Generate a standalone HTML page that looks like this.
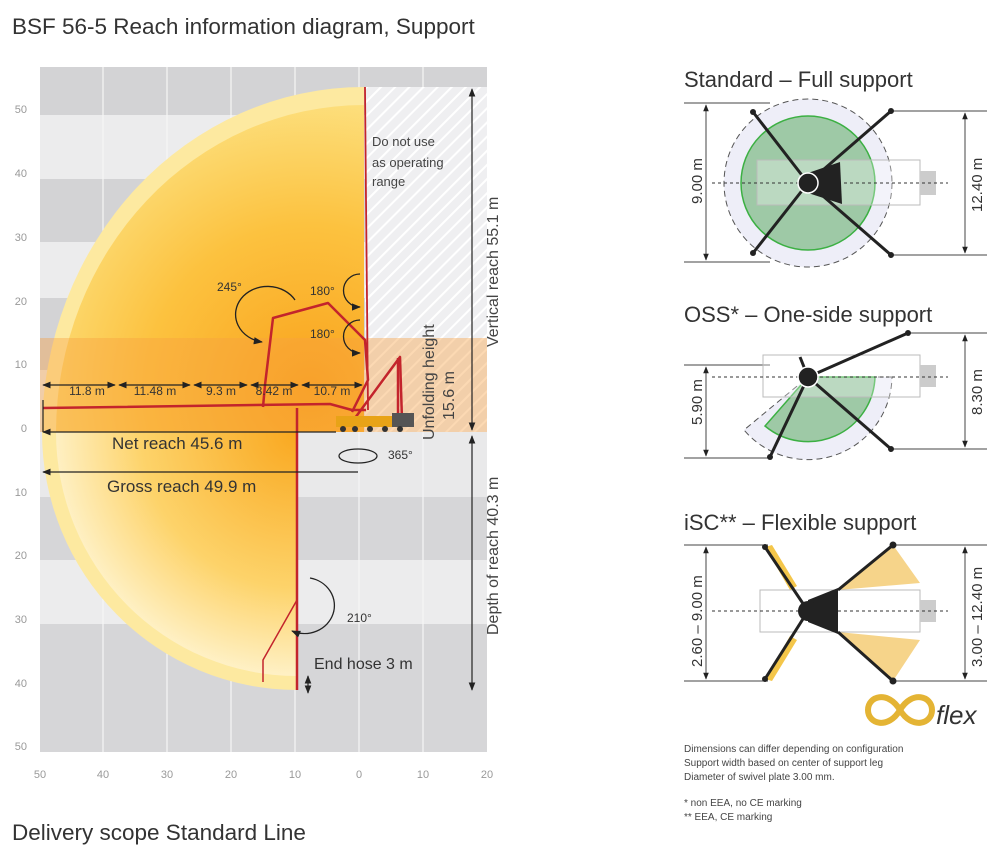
<!DOCTYPE html>
<html><head><meta charset="utf-8"><style>
body{margin:0;background:#fff;}
svg text{font-family:"Liberation Sans",sans-serif;}
</style></head><body>
<svg width="1007" height="845" viewBox="0 0 1007 845" xmlns="http://www.w3.org/2000/svg">
<defs>
<pattern id="hatch" width="10" height="10" patternUnits="userSpaceOnUse" patternTransform="rotate(45)">
<rect width="10" height="10" fill="#efeff1"/><line x1="0" y1="0" x2="0" y2="10" stroke="#fff" stroke-width="4"/>
</pattern>
<radialGradient id="yg" cx="310" cy="390" r="330" gradientUnits="userSpaceOnUse">
<stop offset="0" stop-color="#f9a21c"/><stop offset="0.5" stop-color="#fcc23f"/><stop offset="1" stop-color="#fde890"/>
</radialGradient>
<radialGradient id="yg2" cx="297" cy="432" r="260" gradientUnits="userSpaceOnUse">
<stop offset="0" stop-color="#f9a820"/><stop offset="0.6" stop-color="#fdd36a"/><stop offset="1" stop-color="#fff6d6"/>
</radialGradient>
<marker id="ah" viewBox="0 0 10 10" refX="9" refY="5" markerWidth="7" markerHeight="7" orient="auto-start-reverse"><path d="M0,1 L10,5 L0,9 z" fill="#222"/></marker>
</defs>
<text x="12" y="34" font-size="22.5" fill="#333">BSF 56-5 Reach information diagram, Support</text>
<rect x="40" y="67" width="447" height="685" fill="#ececed"/>
<rect x="40" y="67" width="447" height="48" fill="#d3d3d5"/>
<rect x="40" y="179" width="447" height="63" fill="#d3d3d5"/>
<rect x="40" y="298" width="447" height="72" fill="#d3d3d5"/>
<rect x="40" y="497" width="447" height="63" fill="#d6d6d8"/>
<rect x="40" y="624" width="447" height="128" fill="#d6d6d8"/>
<rect x="40" y="432" width="447" height="65" fill="#e9e9ea"/>
<g stroke="#f6f6f6" stroke-width="1.2">
<line x1="103" y1="67" x2="103" y2="752"/><line x1="167" y1="67" x2="167" y2="752"/><line x1="231" y1="67" x2="231" y2="752"/><line x1="295" y1="67" x2="295" y2="752"/><line x1="359" y1="67" x2="359" y2="752"/><line x1="423" y1="67" x2="423" y2="752"/>
</g>
<rect x="365" y="87" width="122" height="345" fill="url(#hatch)"/>
<path d="M364,87 A322,345 0 0 0 42,432 L364,432 Z" fill="#fde9a0"/>
<path d="M364,105 A308,328 0 0 0 56,432 L364,432 Z" fill="url(#yg)"/>
<path d="M42,432 A255,258 0 0 0 297,690 L297,432 Z" fill="#fde9a0"/>
<path d="M56,432 A241,244 0 0 0 297,676 L297,432 Z" fill="url(#yg2)"/>
<rect x="40" y="338" width="447" height="94" fill="#f7a040" opacity="0.4"/>
<g font-size="11" fill="#999" text-anchor="end">
<text x="27" y="113">50</text><text x="27" y="177">40</text><text x="27" y="241">30</text><text x="27" y="305">20</text><text x="27" y="368">10</text><text x="27" y="432">0</text>
<text x="27" y="496">10</text><text x="27" y="559">20</text><text x="27" y="623">30</text><text x="27" y="687">40</text><text x="27" y="750">50</text>
</g>
<g font-size="11" fill="#999" text-anchor="middle">
<text x="40" y="778">50</text><text x="103" y="778">40</text><text x="167" y="778">30</text><text x="231" y="778">20</text><text x="295" y="778">10</text><text x="359" y="778">0</text><text x="423" y="778">10</text><text x="487" y="778">20</text>
</g>
<g stroke="#c3242c" fill="none" stroke-width="2.5" stroke-linejoin="round">
<polyline points="365,87 366,200 367,300 368,410" stroke-width="1.8"/>
<polyline points="43,408 330,404 352,410 366,410"/>
<polyline points="263,407 265,385 273,318 328,303 365,340 368,380 352,412"/>
<polyline points="297,408 297,690"/>
<polyline points="297,600 263,660 263,682" stroke-width="1.5"/>
<polyline points="355,418 400,357 402,420"/>
<line x1="398" y1="358" x2="398" y2="420"/>
</g>
<rect x="336" y="416" width="66" height="11" fill="#e8a317"/>
<rect x="392" y="413" width="22" height="14" fill="#555"/>
<g fill="#333"><circle cx="343" cy="429" r="3"/><circle cx="355" cy="429" r="3"/><circle cx="370" cy="429" r="3"/><circle cx="385" cy="429" r="3"/><circle cx="400" cy="429" r="3"/></g>
<g stroke="#222" stroke-width="1.2" marker-start="url(#ah)" marker-end="url(#ah)">
<line x1="43" y1="385" x2="115" y2="385"/><line x1="119" y1="385" x2="190" y2="385"/><line x1="194" y1="385" x2="247" y2="385"/><line x1="251" y1="385" x2="298" y2="385"/><line x1="302" y1="385" x2="362" y2="385"/>
<line x1="472" y1="89" x2="472" y2="430"/><line x1="472" y1="436" x2="472" y2="690"/>
<line x1="308" y1="676" x2="308" y2="693"/>
</g>
<g stroke="#222" stroke-width="1.2">
<line x1="43" y1="432" x2="336" y2="432" marker-start="url(#ah)"/>
<line x1="43" y1="472" x2="358" y2="472" marker-start="url(#ah)"/>
<line x1="43" y1="400" x2="43" y2="432"/>
</g>
<g font-size="12" fill="#333" text-anchor="middle">
<text x="87" y="395">11.8 m</text><text x="155" y="395">11.48 m</text><text x="221" y="395">9.3 m</text><text x="274" y="395">8.42 m</text><text x="332" y="395">10.7 m</text>
</g>
<text x="112" y="449" font-size="17" fill="#333">Net reach 45.6 m</text>
<text x="107" y="492" font-size="17" fill="#333">Gross reach 49.9 m</text>
<text x="314" y="669" font-size="16" fill="#333">End hose 3 m</text>
<text x="372" y="146" font-size="13" fill="#444">Do not use</text>
<text x="372" y="167" font-size="13" fill="#444">as operating</text>
<text x="372" y="186" font-size="13" fill="#444">range</text>
<text x="217" y="291" font-size="12" fill="#333">245°</text>
<text x="310" y="295" font-size="12" fill="#333">180°</text>
<text x="310" y="338" font-size="12" fill="#333">180°</text>
<text x="388" y="459" font-size="12" fill="#333">365°</text>
<text x="347" y="622" font-size="12" fill="#333">210°</text>
<g fill="none" stroke="#222" stroke-width="1.3">
<path d="M295,300 A32,28 0 1 0 262,342" marker-end="url(#ah)"/>
<path d="M360,274 A12,12 0 0 0 360,307" marker-end="url(#ah)"/>
<path d="M360,320 A12,12 0 0 0 360,353" marker-end="url(#ah)"/>
<ellipse cx="358" cy="456" rx="19" ry="7"/>
<path d="M310,578 A30,28 0 1 1 292,631" marker-end="url(#ah)"/>
</g>
<g font-size="16" fill="#444">
<text transform="translate(498,347) rotate(-90)">Vertical reach 55.1 m</text>
<text transform="translate(498,635) rotate(-90)">Depth of reach 40.3 m</text>
<text transform="translate(434,440) rotate(-90)">Unfolding height</text>
<text transform="translate(454,420) rotate(-90)">15.6 m</text>
</g>
<text x="12" y="840" font-size="22.5" fill="#333">Delivery scope Standard Line</text>

<text x="684" y="87" font-size="22" fill="#333">Standard – Full support</text>
<g stroke="#444" stroke-width="1">
<line x1="684" y1="103" x2="770" y2="103"/><line x1="684" y1="262" x2="770" y2="262"/>
<line x1="890" y1="111" x2="987" y2="111"/><line x1="890" y1="255" x2="987" y2="255"/>
<line x1="706" y1="105" x2="706" y2="260" marker-start="url(#ah)" marker-end="url(#ah)"/>
<line x1="965" y1="113" x2="965" y2="253" marker-start="url(#ah)" marker-end="url(#ah)"/>
</g>
<circle cx="808" cy="183" r="84" fill="#eeeef8" stroke="#555" stroke-dasharray="6,4"/>
<circle cx="808" cy="183" r="67" fill="#9ec9a6" stroke="#3cb043" stroke-width="1.5"/>
<rect x="757" y="160" width="163" height="45" fill="#fff" fill-opacity="0.3" stroke="#bbb"/>
<rect x="920" y="171" width="16" height="24" fill="#ccc"/>
<line x1="712" y1="183" x2="948" y2="183" stroke="#333" stroke-dasharray="3,3"/>
<g stroke="#222" stroke-width="3">
<line x1="808" y1="183" x2="753" y2="112"/><line x1="808" y1="183" x2="753" y2="253"/><line x1="808" y1="183" x2="891" y2="111"/><line x1="808" y1="183" x2="891" y2="255"/>
</g>
<path d="M808,173 L840,162 L842,204 L808,193 Z" fill="#222"/>
<circle cx="808" cy="183" r="10" fill="#222" stroke="#fff" stroke-width="1.5"/>
<g fill="#222"><circle cx="753" cy="112" r="3"/><circle cx="753" cy="253" r="3"/><circle cx="891" cy="111" r="3"/><circle cx="891" cy="255" r="3"/></g>
<text transform="translate(702,204) rotate(-90)" font-size="15" fill="#333">9.00 m</text>
<text transform="translate(982,212) rotate(-90)" font-size="15" fill="#333">12.40 m</text>

<text x="684" y="322" font-size="22" fill="#333">OSS* – One-side support</text>
<g stroke="#444" stroke-width="1">
<line x1="684" y1="365" x2="770" y2="365"/><line x1="684" y1="458" x2="770" y2="458"/>
<line x1="908" y1="333" x2="987" y2="333"/><line x1="890" y1="449" x2="987" y2="449"/>
<line x1="706" y1="367" x2="706" y2="456" marker-start="url(#ah)" marker-end="url(#ah)"/>
<line x1="965" y1="335" x2="965" y2="447" marker-start="url(#ah)" marker-end="url(#ah)"/>
</g>
<path d="M808,377 L892,377 A84,84 0 0 1 744,430 Z" fill="#eeeef8" stroke="#555" stroke-dasharray="6,4"/>
<path d="M808,377 L875,377 A67,67 0 0 1 765,426 Z" fill="#9ec9a6" stroke="#3cb043" stroke-width="1.5"/>
<rect x="763" y="355" width="157" height="42" fill="#fff" fill-opacity="0.3" stroke="#bbb"/>
<rect x="920" y="365" width="16" height="22" fill="#ccc"/>
<line x1="712" y1="377" x2="948" y2="377" stroke="#333" stroke-dasharray="3,3"/>
<g stroke="#222" stroke-width="3">
<line x1="808" y1="377" x2="908" y2="333"/><line x1="808" y1="377" x2="891" y2="449"/><line x1="808" y1="377" x2="770" y2="457"/><line x1="808" y1="377" x2="800" y2="357"/>
</g>
<circle cx="808" cy="377" r="10" fill="#222" stroke="#fff" stroke-width="1.5"/>
<g fill="#222"><circle cx="908" cy="333" r="3"/><circle cx="891" cy="449" r="3"/><circle cx="770" cy="457" r="3"/></g>
<text transform="translate(702,425) rotate(-90)" font-size="15" fill="#333">5.90 m</text>
<text transform="translate(982,415) rotate(-90)" font-size="15" fill="#333">8.30 m</text>

<text x="684" y="530" font-size="22" fill="#333">iSC** – Flexible support</text>
<g stroke="#444" stroke-width="1">
<line x1="684" y1="545" x2="768" y2="545"/><line x1="684" y1="681" x2="768" y2="681"/>
<line x1="893" y1="545" x2="987" y2="545"/><line x1="893" y1="681" x2="987" y2="681"/>
<line x1="706" y1="547" x2="706" y2="679" marker-start="url(#ah)" marker-end="url(#ah)"/>
<line x1="965" y1="547" x2="965" y2="679" marker-start="url(#ah)" marker-end="url(#ah)"/>
</g>
<path d="M838,590 L893,545 L920,583 Z" fill="#f6d48a"/>
<path d="M838,632 L893,681 L920,640 Z" fill="#f6d48a"/>
<path d="M765,547 L790,590 L797,586 L772,545 Z" fill="#f4c64a"/>
<path d="M765,679 L790,636 L797,640 L772,681 Z" fill="#f4c64a"/>
<rect x="760" y="590" width="160" height="42" fill="#fff" stroke="#bbb"/>
<rect x="920" y="600" width="16" height="22" fill="#ccc"/>
<line x1="712" y1="611" x2="948" y2="611" stroke="#333" stroke-dasharray="3,3"/>
<g stroke="#222" stroke-width="3">
<line x1="808" y1="611" x2="765" y2="547"/><line x1="808" y1="611" x2="765" y2="679"/><line x1="838" y1="590" x2="893" y2="545"/><line x1="838" y1="632" x2="893" y2="681"/>
</g>
<path d="M808,600 L838,588 L838,634 L808,622 Z" fill="#222"/>
<circle cx="808" cy="611" r="10" fill="#222"/>
<g fill="#222"><circle cx="765" cy="547" r="3"/><circle cx="765" cy="679" r="3"/><circle cx="893" cy="545" r="3.5"/><circle cx="893" cy="681" r="3.5"/></g>
<text transform="translate(702,667) rotate(-90)" font-size="15" fill="#333">2.60 – 9.00 m</text>
<text transform="translate(982,667) rotate(-90)" font-size="15" fill="#333">3.00 – 12.40 m</text>
<path d="M900,710 C888,690 868,696 868,710 C868,724 888,730 900,710 C912,690 932,696 932,710 C932,724 912,730 900,710 Z" fill="none" stroke="#e4b434" stroke-width="6"/>
<text x="936" y="724" font-size="26" font-style="italic" fill="#333">flex</text>
<g font-size="10" fill="#444">
<text x="684" y="752">Dimensions can differ depending on configuration</text>
<text x="684" y="766">Support width based on center of support leg</text>
<text x="684" y="780">Diameter of swivel plate 3.00 mm.</text>
<text x="684" y="806">*   non EEA, no CE marking</text>
<text x="684" y="820">** EEA, CE marking</text>
</g>
</svg>
</body></html>
